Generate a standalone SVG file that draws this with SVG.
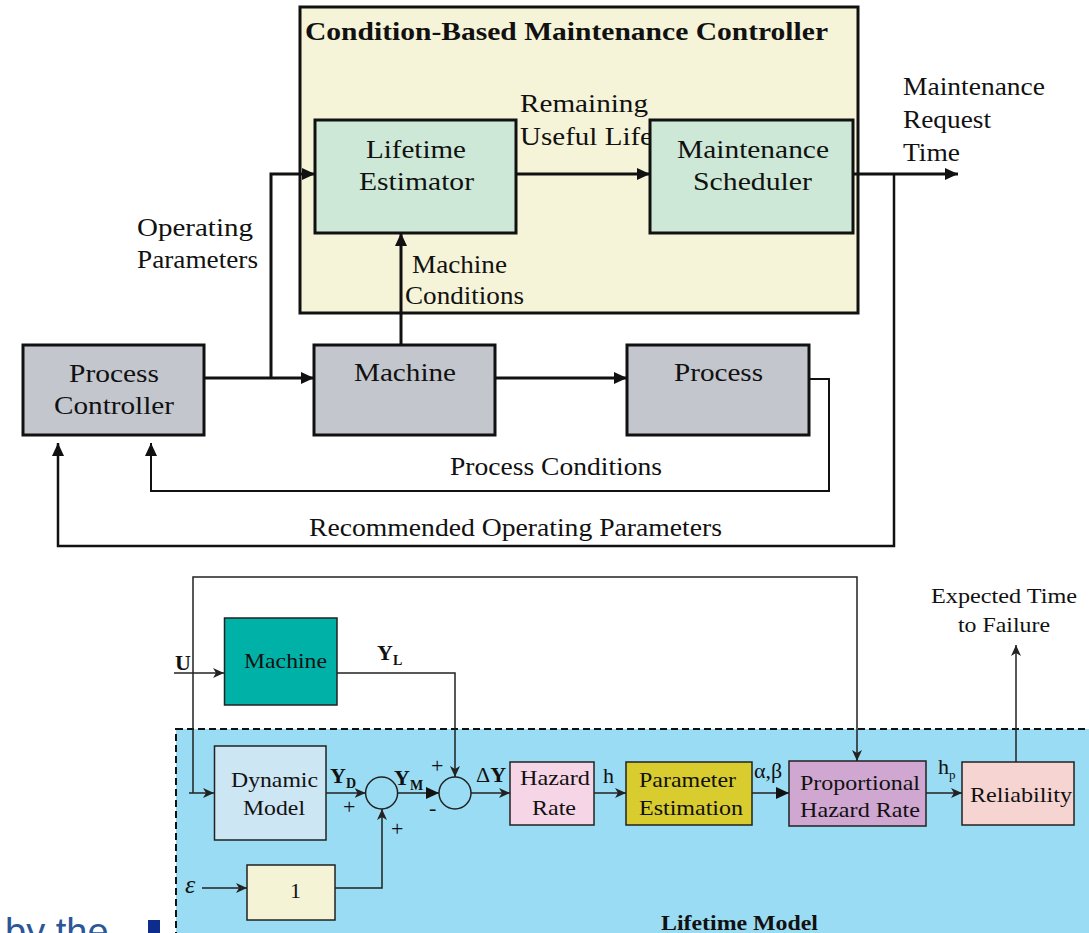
<svg xmlns="http://www.w3.org/2000/svg" width="1089" height="933" viewBox="0 0 1089 933">
<style>
text{font-family:"Liberation Serif","Times New Roman",serif;fill:#111}
.t{font-size:25px}
.b{font-size:22px}
.tb{stroke:#111;stroke-width:3;}
.bb{stroke:#222;stroke-width:1.5;}
.ct{fill:none;stroke:#111;stroke-width:3}
.cb{fill:none;stroke:#222;stroke-width:1.5}
.bold{font-weight:bold}
</style>
<defs>
<marker id="arrT" markerUnits="userSpaceOnUse" markerWidth="14" markerHeight="12" refX="13" refY="6" orient="auto"><path d="M0,0 L13,6 L0,12 z" fill="#111"/></marker>
<marker id="arrB" markerUnits="userSpaceOnUse" markerWidth="12" markerHeight="10" refX="11" refY="5" orient="auto"><path d="M0,0 L11,5 L0,10 L3,5 z" fill="#222"/></marker>
<marker id="arrBF" markerUnits="userSpaceOnUse" markerWidth="14" markerHeight="12" refX="13" refY="6" orient="auto"><path d="M0,0 L13,6 L0,12 z" fill="#111"/></marker>
</defs>
<rect width="1089" height="933" fill="#fff"/>

<g id="cbm-controller">
<rect x="300" y="7" width="558" height="306" fill="#f6f4d8" class="tb"/>
<text x="305" y="40" class="bold" font-size="26" textLength="523" lengthAdjust="spacingAndGlyphs">Condition-Based Maintenance Controller</text>
</g>

<g id="labels">
<text class="t" x="520" y="112" textLength="128" lengthAdjust="spacingAndGlyphs">Remaining</text>
<text class="t" x="520" y="145" textLength="133" lengthAdjust="spacingAndGlyphs">Useful Life</text>
<text class="t" x="903" y="95" textLength="142" lengthAdjust="spacingAndGlyphs">Maintenance</text>
<text class="t" x="903" y="128" textLength="88" lengthAdjust="spacingAndGlyphs">Request</text>
<text class="t" x="903" y="161" textLength="57" lengthAdjust="spacingAndGlyphs">Time</text>
<text class="t" x="137" y="236" textLength="116" lengthAdjust="spacingAndGlyphs">Operating</text>
<text class="t" x="137" y="268" textLength="121" lengthAdjust="spacingAndGlyphs">Parameters</text>
<text class="t" x="412" y="273" textLength="95" lengthAdjust="spacingAndGlyphs">Machine</text>
<text class="t" x="405" y="304" textLength="119" lengthAdjust="spacingAndGlyphs">Conditions</text>
<text class="t" x="450" y="475" textLength="212" lengthAdjust="spacingAndGlyphs">Process Conditions</text>
<text class="t" x="309" y="536" textLength="413" lengthAdjust="spacingAndGlyphs">Recommended Operating Parameters</text>
<text class="b" x="931" y="603" textLength="146" lengthAdjust="spacingAndGlyphs">Expected Time</text>
<text class="b" x="958" y="632" textLength="92" lengthAdjust="spacingAndGlyphs">to Failure</text>
</g>

<g id="lifetime-estimator">
<rect x="315" y="120" width="201" height="113" fill="#cde8d6" class="tb"/>
<text class="t" x="366" y="158" textLength="100" lengthAdjust="spacingAndGlyphs">Lifetime</text>
<text class="t" x="359" y="190" textLength="115" lengthAdjust="spacingAndGlyphs">Estimator</text>
</g>
<g id="maintenance-scheduler">
<rect x="650" y="120" width="203" height="113" fill="#cde8d6" class="tb"/>
<text class="t" x="677" y="158" textLength="152" lengthAdjust="spacingAndGlyphs">Maintenance</text>
<text class="t" x="693" y="190" textLength="119" lengthAdjust="spacingAndGlyphs">Scheduler</text>
</g>
<g id="process-controller">
<rect x="23" y="345" width="181" height="90" fill="#c3c6cd" class="tb"/>
<text class="t" x="69" y="382" textLength="90" lengthAdjust="spacingAndGlyphs">Process</text>
<text class="t" x="54" y="414" textLength="120" lengthAdjust="spacingAndGlyphs">Controller</text>
</g>
<g id="machine-top">
<rect x="314" y="345" width="181" height="90" fill="#c3c6cd" class="tb"/>
<text class="t" x="354" y="381" textLength="102" lengthAdjust="spacingAndGlyphs">Machine</text>
</g>
<g id="process">
<rect x="627" y="345" width="182" height="90" fill="#c3c6cd" class="tb"/>
<text class="t" x="674" y="381" textLength="89" lengthAdjust="spacingAndGlyphs">Process</text>
</g>

<g id="lifetime-model">
<rect x="176" y="729" width="920" height="230" fill="#9adcf3" stroke="#111" stroke-width="2" stroke-dasharray="7,4"/>
<text x="661" y="930" class="bold b" textLength="157" lengthAdjust="spacingAndGlyphs">Lifetime Model</text>
</g>
<g id="machine-bottom">
<rect x="224.5" y="618" width="112.5" height="87" fill="#00b1a7" stroke="#222" stroke-width="1.5"/>
<text class="b" x="244" y="668" textLength="83" lengthAdjust="spacingAndGlyphs">Machine</text>
</g>
<g id="dynamic-model">
<rect x="214.5" y="746" width="111.5" height="94" fill="#cce6f4" stroke="#222" stroke-width="1.5"/>
<text class="b" x="231" y="787" textLength="87" lengthAdjust="spacingAndGlyphs">Dynamic</text>
<text class="b" x="243" y="815" textLength="62" lengthAdjust="spacingAndGlyphs">Model</text>
</g>
<g id="gain-one">
<rect x="247" y="865" width="88" height="55" fill="#f5f3d5" stroke="#222" stroke-width="1.5"/>
<text class="b" x="290" y="898">1</text>
</g>
<g id="sum1"><circle cx="381.6" cy="793" r="16" fill="none" stroke="#222" stroke-width="1.5"/></g>
<g id="sum2"><circle cx="455" cy="793" r="16" fill="none" stroke="#222" stroke-width="1.5"/></g>
<g id="hazard-rate">
<rect x="510" y="762" width="84" height="63" fill="#f5d5e6" stroke="#222" stroke-width="1.5"/>
<text class="b" x="520" y="785" textLength="70" lengthAdjust="spacingAndGlyphs">Hazard</text>
<text class="b" x="532" y="815" textLength="44" lengthAdjust="spacingAndGlyphs">Rate</text>
</g>
<g id="parameter-estimation">
<rect x="626" y="762" width="126" height="63" fill="#d8cc2e" stroke="#222" stroke-width="1.5"/>
<text class="b" x="639" y="787" textLength="97" lengthAdjust="spacingAndGlyphs">Parameter</text>
<text class="b" x="639" y="815" textLength="104" lengthAdjust="spacingAndGlyphs">Estimation</text>
</g>
<g id="proportional-hazard-rate">
<rect x="789" y="761" width="137" height="65" fill="#cfa7d1" stroke="#222" stroke-width="1.5"/>
<text class="b" x="800" y="790" textLength="120" lengthAdjust="spacingAndGlyphs">Proportional</text>
<text class="b" x="800" y="817" textLength="120" lengthAdjust="spacingAndGlyphs">Hazard Rate</text>
</g>
<g id="reliability">
<rect x="962" y="762" width="112" height="63" fill="#f6d4d1" stroke="#222" stroke-width="1.5"/>
<text class="b" x="970" y="802" textLength="102" lengthAdjust="spacingAndGlyphs">Reliability</text>
</g>

<g id="connectors">
<path class="ct" d="M204,378 H314" marker-end="url(#arrT)"/>
<path class="ct" d="M271,378 V174 H315" marker-end="url(#arrT)"/>
<path class="ct" d="M401,345 V233" marker-end="url(#arrT)"/>
<path class="ct" d="M516,174 H650" marker-end="url(#arrT)"/>
<path class="ct" d="M853,174 H958" marker-end="url(#arrT)"/>
<path class="ct" d="M495,378 H627" marker-end="url(#arrT)"/>
<path fill="none" stroke="#111" stroke-width="2.5" d="M894,174 V546 H58 V443" marker-end="url(#arrT)"/>
<path fill="none" stroke="#111" stroke-width="2" d="M808,379 H829 V491 H151 V443" marker-end="url(#arrT)"/>

<path class="cb" d="M174,673 H224" marker-end="url(#arrB)"/>
<path class="cb" d="M193,793 V577 H857 V761" marker-end="url(#arrB)"/>
<path class="cb" d="M189,793 H214" marker-end="url(#arrB)"/>
<path class="cb" d="M337,673 H455 V777" marker-end="url(#arrB)"/>
<path class="cb" d="M326,793 H365.6" marker-end="url(#arrB)"/>
<path class="cb" d="M397.6,793 H439" marker-end="url(#arrBF)"/>
<path class="cb" d="M471,793 H510" marker-end="url(#arrB)"/>
<path class="cb" d="M335,888 H382 V809" marker-end="url(#arrB)"/>
<path class="cb" d="M202,888 H247" marker-end="url(#arrB)"/>
<path class="cb" d="M594,793 H626" marker-end="url(#arrB)"/>
<path class="cb" d="M752,793 H789" marker-end="url(#arrBF)"/>
<path class="cb" d="M926,793 H962" marker-end="url(#arrB)"/>
<path class="cb" d="M1016,762 V645" marker-end="url(#arrB)"/>
</g>

<g id="signal-labels">
<text class="b bold" x="175" y="670">U</text>
<text class="b bold" x="377" y="660">Y<tspan font-size="14" dy="5">L</tspan></text>
<text class="b bold" x="330" y="783">Y<tspan font-size="14" dy="5">D</tspan></text>
<text class="b bold" x="394" y="785">Y<tspan font-size="14" dy="5">M</tspan></text>
<text class="b" x="343" y="814">+</text>
<text class="b" x="391" y="836">+</text>
<text class="b" x="431" y="773">+</text>
<text class="b" x="429" y="815">-</text>
<text class="b" x="476" y="782"><tspan>Δ</tspan><tspan class="bold">Y</tspan></text>
<text class="b" x="603" y="783">h</text>
<text class="b" x="754" y="778">α,β</text>
<text class="b" x="938" y="774">h<tspan font-size="13" dy="5">p</tspan></text>
<text font-size="26" font-style="italic" x="185" y="893">ε</text>
</g>

<text x="5" y="945" font-size="38" style="font-family:'Liberation Sans',Arial,sans-serif;fill:#2b5797">by the</text>
<rect x="148" y="920" width="12" height="13" fill="#0d2c8c"/>
</svg>
